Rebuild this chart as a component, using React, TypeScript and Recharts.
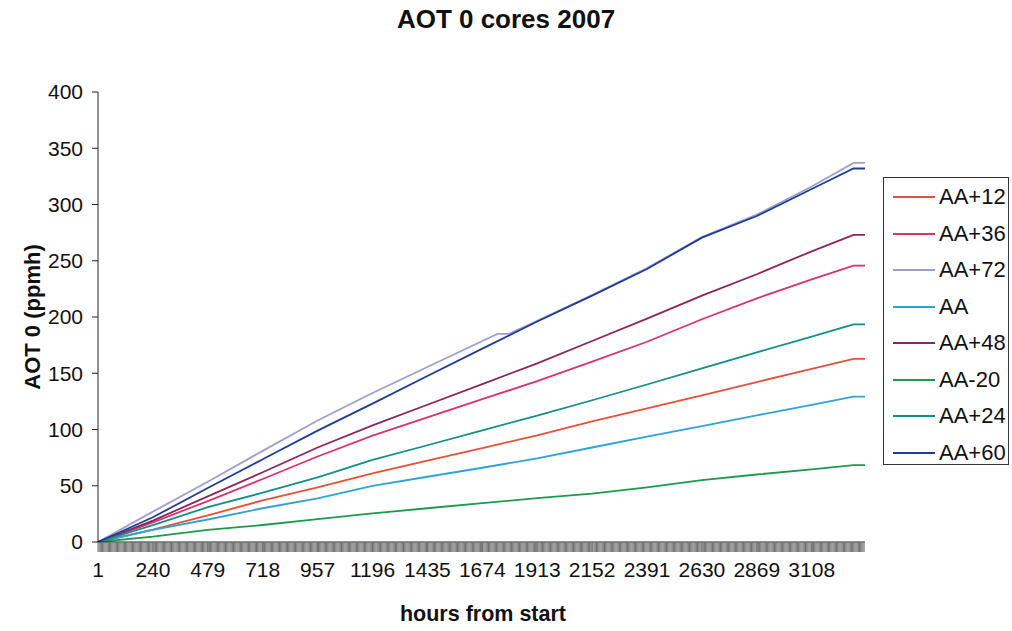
import { LineChart, Line, XAxis, YAxis } from 'recharts';

const hours = [1, 240, 479, 718, 957, 1196, 1435, 1674, 1913, 2152, 2391, 2630, 2869, 3108, 3290, 3340];

const aa12 = [0, 11, 23.7, 37, 48.6, 61, 72.3, 83.5, 94.8, 107.3, 118.8, 130.4, 142.2, 153.8, 162.7, 162.7];
const aa36 = [0, 17.5, 36.4, 56, 76, 94.5, 110.8, 127, 143, 160.3, 178, 198, 216.6, 233.5, 245.6, 245.6];
const aa = [0, 10.7, 20, 30, 38.8, 49.8, 58, 66, 74.4, 84, 93.6, 103, 112.6, 121.8, 129.2, 129.2];
const aa48 = [0, 19, 40.6, 62, 84, 103.7, 122, 140.4, 158.8, 178.7, 198.5, 219, 238, 258.4, 273, 273];
const aaMinus20 = [0, 4.7, 10.7, 15.1, 20.4, 25.5, 30, 34.5, 39, 43, 48.5, 55, 60, 64.5, 68.4, 68.4];
const aa24 = [0, 15, 31, 43.8, 57.5, 73, 86, 99.3, 112.4, 126, 140, 154.4, 168.6, 182.5, 193.5, 193.5];
const aa60 = [0, 22, 48, 73.5, 99, 123, 147.5, 171.9, 196, 219, 242.7, 270.5, 289.8, 313.8, 332, 332];

// AA+72 has a small bump around 1700 h, so it gets a few extra readings
const aa72Hours = [1, 240, 479, 718, 957, 1196, 1435, 1674, 1740, 1790, 1913, 2152, 2391, 2630, 2869, 3108, 3290, 3340];
const aa72 = [0, 27, 53.6, 81, 108, 132.4, 155.6, 178.7, 185, 185, 196.5, 219.5, 243.5, 271, 291, 316, 337, 337];

const labelHours = [1, 240, 479, 718, 957, 1196, 1435, 1674, 1913, 2152, 2391, 2630, 2869, 3108];
const yTicks = [0, 50, 100, 150, 200, 250, 300, 350, 400];

const SERIES = [
  { key: 'AA+12', color: '#e4503a' },
  { key: 'AA+36', color: '#d8336a' },
  { key: 'AA+72', color: '#a09fcc' },
  { key: 'AA', color: '#2ea3d8' },
  { key: 'AA+48', color: '#8e2558' },
  { key: 'AA-20', color: '#1c9a4e' },
  { key: 'AA+24', color: '#128e8c' },
  { key: 'AA+60', color: '#1d3d98' },
];

const rows = hours.map((hour, i) => ({
  hour,
  'AA+12': aa12[i],
  'AA+36': aa36[i],
  AA: aa[i],
  'AA+48': aa48[i],
  'AA-20': aaMinus20[i],
  'AA+24': aa24[i],
  'AA+60': aa60[i],
}));

const rows72 = aa72Hours.map((hour, i) => ({ hour, 'AA+72': aa72[i] }));

// Excel draws a tick mark for every hour -> dense gray band under the axis
const bandTicks = Array.from(new Set([...labelHours, ...Array.from({ length: 668 }, (_, i) => 1 + i * 5)])).sort(
  (a, b) => a - b
);

const FONT = '"Liberation Sans", Arial, sans-serif';

function HourTick(props: any) {
  const { x, y, payload } = props;
  if (!labelHours.includes(payload.value)) return <g />;
  return (
    <text x={x} y={y + 23} textAnchor="middle" fontSize={21} fontFamily={FONT} fill="#111">
      {payload.value}
    </text>
  );
}

export default function App() {
  return (
    <div style={{ position: 'absolute', left: 0, top: 0, width: 1012, height: 631, background: '#fff', fontFamily: FONT }}>
      <div style={{ position: 'absolute', left: 0, width: 1012, top: 4, textAlign: 'center', fontSize: 26, fontWeight: 'bold', color: '#111' }}>
        AOT 0 cores 2007
      </div>
      <div
        style={{
          position: 'absolute',
          left: 33,
          top: 317,
          transform: 'translate(-50%, -50%) rotate(-90deg)',
          fontSize: 22,
          fontWeight: 'bold',
          whiteSpace: 'nowrap',
          color: '#111',
        }}
      >
        AOT 0 (ppmh)
      </div>
      <div style={{ position: 'absolute', left: 0, width: 966, top: 602, textAlign: 'center', fontSize: 21.5, fontWeight: 'bold', color: '#111' }}>
        hours from start
      </div>

      <LineChart width={1012} height={631} data={rows} margin={{ top: 92, right: 147, left: 0, bottom: 49 }}>
        <XAxis
          dataKey="hour"
          type="number"
          domain={[1, 3340]}
          ticks={bandTicks}
          interval={0}
          tickSize={10}
          tickLine={{ stroke: '#707070' }}
          axisLine={{ stroke: '#222' }}
          tick={<HourTick />}
          height={40}
        />
        <YAxis
          domain={[0, 400]}
          ticks={yTicks}
          interval={0}
          width={98}
          tickSize={6}
          tickMargin={9}
          tickLine={{ stroke: '#222' }}
          axisLine={{ stroke: '#222' }}
          tick={{ fontSize: 21, fill: '#111', fontFamily: FONT }}
        />
        {SERIES.map((s) =>
          s.key === 'AA+72' ? (
            <Line
              key={s.key}
              data={rows72}
              dataKey={s.key}
              stroke={s.color}
              strokeWidth={1.8}
              dot={false}
              type="linear"
              isAnimationActive={false}
            />
          ) : (
            <Line
              key={s.key}
              dataKey={s.key}
              stroke={s.color}
              strokeWidth={1.8}
              dot={false}
              type="linear"
              isAnimationActive={false}
            />
          )
        )}
      </LineChart>

      {/* Legend box */}
      <div
        style={{
          position: 'absolute',
          left: 883,
          top: 177,
          width: 126,
          height: 288,
          border: '1px solid #333',
          boxSizing: 'border-box',
          background: '#fff',
        }}
      >
        {SERIES.map((s, i) => (
          <div key={s.key} style={{ position: 'absolute', left: 9, top: 5 + i * 36.5, height: 28, display: 'flex', alignItems: 'center' }}>
            <span style={{ display: 'inline-block', width: 42, height: 2, background: s.color }} />
            <span style={{ marginLeft: 4, fontSize: 22, color: '#111' }}>{s.key}</span>
          </div>
        ))}
      </div>
    </div>
  );
}
